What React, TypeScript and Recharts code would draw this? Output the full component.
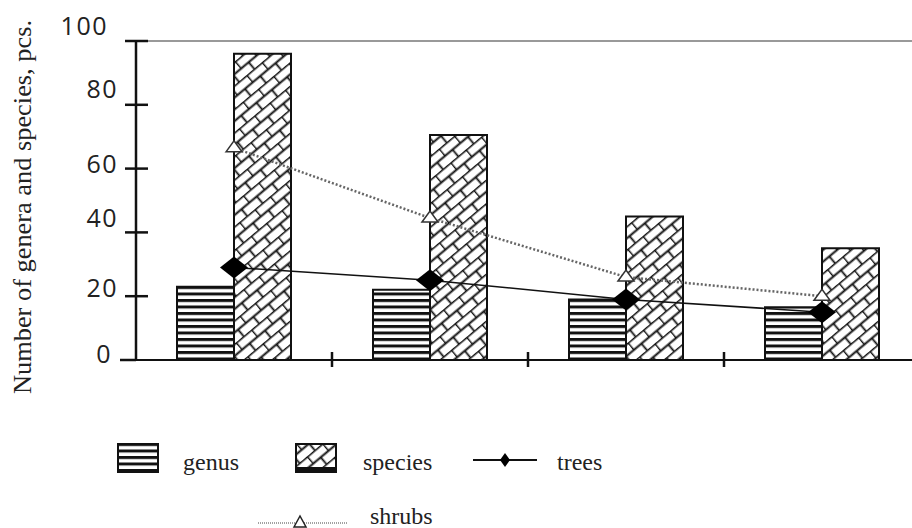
import React from 'react';
import { ComposedChart, Bar, Line, XAxis, YAxis, ReferenceLine, Legend } from 'recharts';

const groups = ['1', '2', '3', '4'];
const genus = [23, 22, 19, 16.5];
const species = [96, 70.5, 45, 35];
const trees = [29, 25, 19, 15];
const shrubs = [66.5, 44.5, 26, 20];
const yTicks = [0, 20, 40, 60, 80, 100];

const data = groups.map((g, i) => ({
    group: g,
    genus: genus[i],
    species: species[i],
    trees: trees[i],
    shrubs: shrubs[i],
}));

// labels in the original sit unevenly above their ticks
const labelShift: Record<number, [number, number]> = {
    0: [-6, -7],
    20: [0, -9],
    40: [0, -15],
    60: [0, -6],
    80: [0, -17],
    100: [-10, -16],
};

const YTick = ({ x, y, payload }: any) => {
    const [dx, dy] = labelShift[payload.value] || [0, 0];
    return (
        <g>
            <line x1={x - (payload.value === 0 ? 16 : 11)} x2={payload.value === 0 ? x : x + 12} y1={y} y2={y} stroke="#111" strokeWidth={2.5} />
            <text
                x={x - 18 + dx}
                y={y + dy}
                textAnchor="end"
                dominantBaseline="central"
                fontFamily="'Open Sans', sans-serif"
                fontSize={25}
                letterSpacing={1.5}
                fill="#222"
            >
                {payload.value}
            </text>
        </g>
    );
};

// tick marks sit between the groups, not under them
const XTick = ({ x, y, payload, visibleTicksCount }: any) => {
    if (payload.index >= (visibleTicksCount ?? groups.length) - 1) return <g />;
    const bx = x + (payload.offset || 0);
    return <line x1={bx} x2={bx} y1={y - 8} y2={y + 7} stroke="#111" strokeWidth={2.5} />;
};

const Diamond = ({ cx, cy }: any) => (
    <polygon
        points={`${cx - 14},${cy} ${cx},${cy - 11} ${cx + 14},${cy} ${cx},${cy + 11}`}
        fill="#000"
    />
);

const Triangle = ({ cx, cy }: any) => (
    <polygon
        points={`${cx - 8},${cy + 4} ${cx},${cy - 7} ${cx + 8},${cy + 4}`}
        fill="#fff"
        stroke="#333"
        strokeWidth={1.5}
    />
);

const legendPos: Record<string, { left: number; text: number; top: number }> = {
    genus: { left: 117, text: 183, top: 443 },
    species: { left: 295, text: 363, top: 443 },
    trees: { left: 473, text: 557, top: 443 },
    shrubs: { left: 258, text: 370, top: 497 },
};

const Swatch = ({ k }: { k: string }) => {
    if (k === 'genus' || k === 'species') {
        return (
            <svg width={42} height={30} style={{ position: 'absolute', left: 0, top: 0 }}>
                <rect x={1} y={1} width={40} height={28} fill={k === 'genus' ? 'url(#stripes)' : 'url(#brick)'} stroke="#111" strokeWidth={2} />
                {k === 'species' && <rect x={1} y={24} width={40} height={5} fill="#111" />}
            </svg>
        );
    }
    if (k === 'trees') {
        return (
            <svg width={64} height={30} style={{ position: 'absolute', left: 0, top: 0 }}>
                <line x1={0} x2={64} y1={17} y2={17} stroke="#111" strokeWidth={2} />
                <polygon points="27,17 32,10 37,17 32,24" fill="#000" />
            </svg>
        );
    }
    return (
        <svg width={89} height={32} style={{ position: 'absolute', left: 0, top: 0 }}>
            <line x1={0} x2={89} y1={26} y2={26} stroke="#444" strokeWidth={1} strokeDasharray="1 1" />
            <polygon points="36,30 42,19 48,30" fill="#fff" stroke="#222" strokeWidth={1.5} />
        </svg>
    );
};

const LegendBox = ({ payload }: any) => (
    <div style={{ position: 'relative', width: 912, height: 528, fontFamily: "'Liberation Serif', serif", fontSize: 24, color: '#222' }}>
        {(payload || []).map((entry: any) => {
            const p = legendPos[entry.dataKey];
            if (!p) return null;
            return (
                <React.Fragment key={entry.dataKey}>
                    <div style={{ position: 'absolute', left: p.left, top: p.top, width: 90, height: 32 }}>
                        <Swatch k={entry.dataKey} />
                    </div>
                    <div style={{ position: 'absolute', left: p.text, top: p.top + 5, lineHeight: '28px' }}>
                        {entry.value}
                    </div>
                </React.Fragment>
            );
        })}
    </div>
);

export default function App() {
    return (
        <div style={{ position: 'absolute', left: 0, top: 0, width: 912, height: 528, overflow: 'hidden', background: '#fff' }}>
            <ComposedChart
                width={930}
                height={528}
                data={data}
                margin={{ top: 41, right: 10, left: 76, bottom: 138 }}
                barGap={0}
            >
                <defs>
                    <pattern id="stripes" width={10} height={6.5} patternUnits="userSpaceOnUse">
                        <rect width={10} height={6.5} fill="#fff" />
                        <rect width={10} height={3} fill="#111" />
                    </pattern>
                    <pattern id="brick" width={20} height={18} patternUnits="userSpaceOnUse" patternTransform="rotate(-40)">
                        <rect width={20} height={18} fill="#fff" />
                        <path d="M0 0.5H20 M0 9.5H20 M0.5 0V9.5 M10.5 9.5V18" stroke="#111" strokeWidth={1.8} fill="none" />
                    </pattern>
                </defs>

                <XAxis
                    dataKey="group"
                    interval={0}
                    tick={<XTick />}
                    tickLine={false}
                    tickSize={0}
                    tickMargin={0}
                    height={30}
                    axisLine={{ stroke: '#111', strokeWidth: 2 }}
                />
                <YAxis
                    domain={[0, 100]}
                    ticks={yTicks}
                    interval={0}
                    width={60}
                    tickSize={0}
                    tickMargin={0}
                    tickLine={false}
                    tick={<YTick />}
                    axisLine={{ stroke: '#111', strokeWidth: 2.5 }}
                />

                <ReferenceLine y={100} stroke="#999" strokeWidth={2} />

                <Legend
                    layout="horizontal"
                    verticalAlign="middle"
                    align="center"
                    content={<LegendBox />}
                    wrapperStyle={{ position: 'absolute', left: 0, top: 0, width: 912, height: 528, pointerEvents: 'none' }}
                />

                <Bar dataKey="genus" name="genus" fill="url(#stripes)" stroke="#111" strokeWidth={2} barSize={57} isAnimationActive={false} />
                <Bar dataKey="species" name="species" fill="url(#brick)" stroke="#111" strokeWidth={2} barSize={57} isAnimationActive={false} />
                <Line
                    dataKey="trees"
                    name="trees"
                    stroke="#111"
                    strokeWidth={1.5}
                    dot={<Diamond />}
                    activeDot={false}
                    isAnimationActive={false}
                />
                <Line
                    dataKey="shrubs"
                    name="shrubs"
                    stroke="#666"
                    strokeWidth={2.5}
                    strokeDasharray="2 2"
                    dot={<Triangle />}
                    activeDot={false}
                    isAnimationActive={false}
                />
            </ComposedChart>

            <svg width={60} height={528} style={{ position: 'absolute', left: 0, top: 0 }}>
                <text
                    transform="translate(31,207) rotate(-90)"
                    textAnchor="middle"
                    fontFamily="'Liberation Serif', serif"
                    fontSize={25}
                    textLength={374}
                    lengthAdjust="spacingAndGlyphs"
                    fill="#222"
                >
                    Number of genera and species, pcs.
                </text>
            </svg>
        </div>
    );
}
